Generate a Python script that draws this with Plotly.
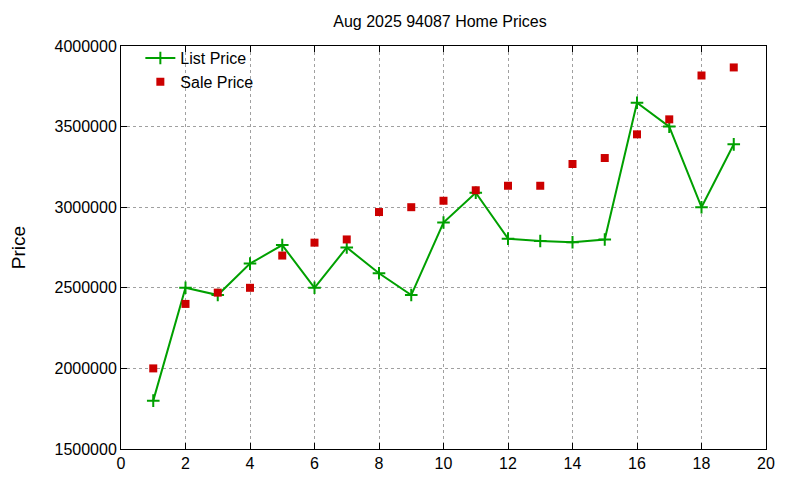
import plotly.graph_objects as go

# month index (1..19)
months = list(range(1, 20))

list_price = [1800000, 2500000, 2455000, 2650000, 2765000, 2500000, 2750000, 2590000, 2455000,
              2905000, 3090000, 2805000, 2790000, 2783000, 2800000, 3648000, 3500000, 3000000, 3390000]
sale_price = [2000000, 2400000, 2470000, 2500000, 2700000, 2780000, 2800000, 2970000, 3000000,
              3040000, 3105000, 3133000, 3133000, 3268000, 3305000, 3452000, 3545000, 3817000, 3867000]

textsize = 16
font_family = "Liberation Sans, Arial, sans-serif"

fig = go.Figure()

fig.add_trace(go.Scatter(
    x=months,
    y=list_price,
    mode='lines+markers',
    line=dict(color='#00a000', width=2),
    marker=dict(symbol='cross-thin', size=9, color='#00a000', line=dict(width=2, color='#00a000')),
    name='List Price',
))

fig.add_trace(go.Scatter(
    x=months,
    y=sale_price,
    mode='markers',
    marker=dict(symbol='square', size=8, color='#cc0000'),
    name='Sale Price',
))

axis_style = dict(
    showline=True, linecolor="black", linewidth=1,
    mirror="ticks", ticks="inside", ticklen=6, tickcolor="black",
    showgrid=True, gridcolor="#a0a0a0", griddash="dot", gridwidth=1,
    zeroline=False, tickfont=dict(size=textsize, color="black"),
    automargin=False,
)

fig.update_layout(
    plot_bgcolor="white",
    paper_bgcolor="white",
    width=800, height=480,
    font=dict(family=font_family, size=textsize, color="black"),
    title=dict(text="Aug 2025 94087 Home Prices", x=0.54, xanchor="center", y=0.973, yanchor="middle",
               font=dict(size=textsize)),
    xaxis=dict(range=[0, 20], dtick=2, tick0=0, **axis_style),
    yaxis=dict(range=[1500000, 4000000], dtick=500000, tickformat="d",
               title=dict(text="Price", standoff=29), **axis_style),
    legend=dict(
        x=0.03, y=1.012, xanchor="left", yanchor="top",
        bgcolor="rgba(0,0,0,0)", borderwidth=0,
        font=dict(size=textsize),
        tracegroupgap=0,
    ),
    margin=dict(l=113, r=42, t=38, b=39),
)

fig.write_html("out.html")
